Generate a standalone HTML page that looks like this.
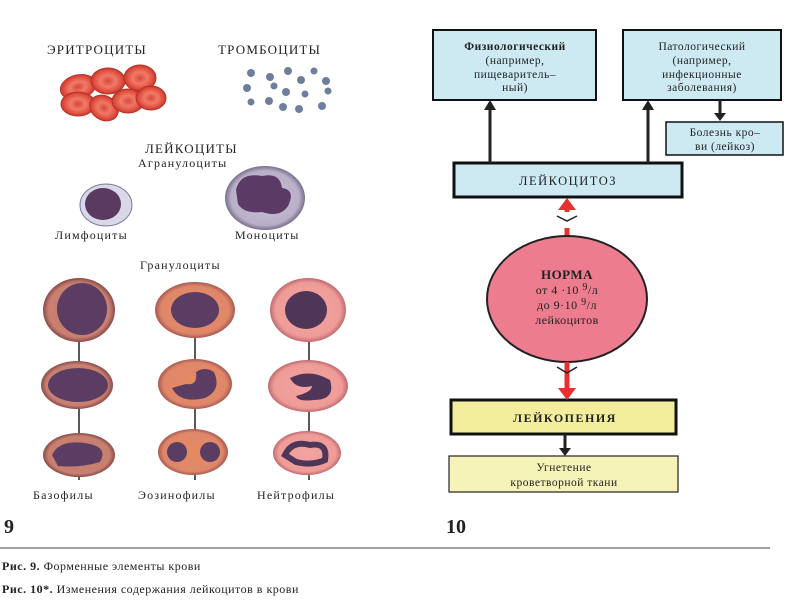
<!DOCTYPE html>
<html><head><meta charset="utf-8"><style>
body{margin:0;background:#fff;}
svg{display:block;font-family:"Liberation Serif","Noto Serif CJK SC",serif;}
</style></head><body>
<svg width="800" height="600" viewBox="0 0 800 600" xmlns="http://www.w3.org/2000/svg">
<defs>
<radialGradient id="rbc" cx="50%" cy="50%" r="50%"><stop offset="0" stop-color="#d9483a"/><stop offset="0.45" stop-color="#f07a68"/><stop offset="0.8" stop-color="#e2503f"/><stop offset="1" stop-color="#c33a30"/></radialGradient>
<radialGradient id="gran" cx="50%" cy="50%" r="50%"><stop offset="0" stop-color="#e48a60"/><stop offset="0.85" stop-color="#e0876a"/><stop offset="1" stop-color="#a85a50"/></radialGradient>
<radialGradient id="neut" cx="50%" cy="50%" r="50%"><stop offset="0" stop-color="#f2a4a0"/><stop offset="0.85" stop-color="#ef9c98"/><stop offset="1" stop-color="#c06a70"/></radialGradient>
<radialGradient id="baso" cx="50%" cy="50%" r="50%"><stop offset="0" stop-color="#c47a6a"/><stop offset="0.85" stop-color="#c98070"/><stop offset="1" stop-color="#8a4a4a"/></radialGradient>
<radialGradient id="mono" cx="50%" cy="50%" r="50%"><stop offset="0" stop-color="#c9c3d8"/><stop offset="0.85" stop-color="#b8b0c8"/><stop offset="1" stop-color="#7b6e8e"/></radialGradient>
</defs>
<g font-size="13" fill="#222" letter-spacing="1.2">
<text x="47" y="54">ЭРИТРОЦИТЫ</text>
<text x="218" y="54">ТРОМБОЦИТЫ</text>
<text x="145" y="153">ЛЕЙКОЦИТЫ</text>
<text x="138" y="167" font-size="12">Агранулоциты</text>
<text x="55" y="239" font-size="12">Лимфоциты</text>
<text x="235" y="239" font-size="12">Моноциты</text>
<text x="140" y="269" font-size="12">Гранулоциты</text>
<text x="33" y="499" font-size="12">Базофилы</text>
<text x="138" y="499" font-size="12">Эозинофилы</text>
<text x="257" y="499" font-size="12">Нейтрофилы</text>
</g>
<!-- erythrocytes -->
<g stroke="#b83228" stroke-width="1">
<ellipse cx="78" cy="87" rx="18" ry="12" fill="url(#rbc)" transform="rotate(-15 78 87)"/>
<ellipse cx="108" cy="81" rx="17" ry="13" fill="url(#rbc)"/>
<ellipse cx="140" cy="78" rx="16" ry="13" fill="url(#rbc)"/>
<ellipse cx="78" cy="104" rx="17" ry="12" fill="url(#rbc)"/>
<ellipse cx="104" cy="108" rx="15" ry="12" fill="url(#rbc)" transform="rotate(30 104 108)"/>
<ellipse cx="128" cy="101" rx="16" ry="12" fill="url(#rbc)"/>
<ellipse cx="151" cy="98" rx="15" ry="12" fill="url(#rbc)"/>
</g>
<!-- platelets -->
<g fill="#6d7f9a">
<circle cx="251" cy="73" r="4"/><circle cx="270" cy="77" r="4"/><circle cx="288" cy="71" r="4"/><circle cx="314" cy="71" r="3.5"/><circle cx="301" cy="80" r="4"/><circle cx="326" cy="81" r="4"/><circle cx="247" cy="88" r="4"/><circle cx="274" cy="86" r="3.5"/><circle cx="286" cy="92" r="4"/><circle cx="305" cy="94" r="3.5"/><circle cx="328" cy="91" r="3.5"/><circle cx="251" cy="102" r="3.5"/><circle cx="269" cy="101" r="4"/><circle cx="283" cy="107" r="4"/><circle cx="299" cy="109" r="4"/><circle cx="322" cy="106" r="4"/>
</g>
<!-- lymphocyte -->
<ellipse cx="106" cy="205" rx="26" ry="21" fill="#d8d8e8" stroke="#7b7896"/>
<ellipse cx="103" cy="204" rx="18" ry="16" fill="#5a3a60"/>
<!-- monocyte -->
<ellipse cx="265" cy="198" rx="40" ry="32" fill="url(#mono)"/>
<path d="M236,190 Q240,172 262,176 Q280,172 282,188 Q296,190 288,206 Q280,218 262,212 Q244,214 238,204 Z" fill="#5c3a66"/>
<!-- granulocyte columns -->
<g stroke="#222" stroke-width="1.5">
<line x1="79" y1="330" x2="79" y2="470"/><line x1="195" y1="330" x2="195" y2="480"/><line x1="309" y1="330" x2="309" y2="480"/>
<line x1="79" y1="470" x2="79" y2="480"/>
</g>
<!-- basophils -->
<ellipse cx="79" cy="310" rx="36" ry="32" fill="url(#baso)"/>
<ellipse cx="82" cy="309" rx="25" ry="26" fill="#5b3d63"/>
<ellipse cx="77" cy="385" rx="36" ry="24" fill="url(#baso)"/>
<ellipse cx="78" cy="385" rx="30" ry="17" fill="#5b3d63"/>
<ellipse cx="79" cy="455" rx="36" ry="22" fill="url(#baso)"/>
<path d="M52,455 Q60,438 90,444 Q108,448 100,462 Q80,468 58,466 Z" fill="#5b3d63"/>
<!-- eosinophils -->
<ellipse cx="195" cy="310" rx="40" ry="28" fill="url(#gran)"/>
<ellipse cx="195" cy="310" rx="24" ry="18" fill="#5b3d63"/>
<ellipse cx="195" cy="384" rx="37" ry="25" fill="url(#gran)"/>
<path d="M172,388 Q180,404 205,398 Q222,390 214,372 Q205,366 196,372 Q198,386 186,384 Z" fill="#5b3d63"/>
<ellipse cx="193" cy="452" rx="35" ry="23" fill="url(#gran)"/>
<ellipse cx="177" cy="452" rx="10" ry="10" fill="#5b3d63"/><ellipse cx="210" cy="452" rx="10" ry="10" fill="#5b3d63"/>
<!-- neutrophils -->
<ellipse cx="308" cy="310" rx="38" ry="32" fill="url(#neut)"/>
<ellipse cx="306" cy="310" rx="21" ry="19" fill="#4f3558"/>
<ellipse cx="308" cy="386" rx="40" ry="26" fill="url(#neut)"/>
<path d="M290,378 Q310,368 330,380 Q336,400 314,400 Q298,402 296,396 Q312,392 312,386 Q296,390 290,378 Z" fill="#4f3558"/>
<ellipse cx="307" cy="453" rx="34" ry="22" fill="url(#neut)"/>
<path d="M285,455 Q292,440 310,445 Q328,442 325,460 Q312,466 296,462 Z" fill="none" stroke="#4f3558" stroke-width="6"/>
<!-- right diagram -->
<g font-size="11.5" fill="#222" text-anchor="middle" letter-spacing="0.5">
<rect x="433" y="30" width="163" height="70" fill="#cdeaf3" stroke="#111" stroke-width="2"/>
<text x="515" y="50" font-weight="bold">Физиологический</text>
<text x="515" y="64">(например,</text>
<text x="515" y="78">пищеваритель–</text>
<text x="515" y="91">ный)</text>
<rect x="623" y="30" width="158" height="70" fill="#cdeaf3" stroke="#111" stroke-width="2"/>
<text x="702" y="50">Патологический</text>
<text x="702" y="64">(например,</text>
<text x="702" y="78">инфекционные</text>
<text x="702" y="91">заболевания)</text>
<rect x="666" y="122" width="117" height="33" fill="#cdeaf3" stroke="#111" stroke-width="1.5"/>
<text x="725" y="136">Болезнь кро–</text>
<text x="725" y="150">ви (лейкоз)</text>
<rect x="454" y="163" width="228" height="34" fill="#cdeaf3" stroke="#111" stroke-width="3"/>
<text x="568" y="185" font-size="12.5" letter-spacing="1.5">ЛЕЙКОЦИТОЗ</text>
<rect x="451" y="400" width="225" height="34" fill="#f2ee9c" stroke="#111" stroke-width="3"/>
<text x="565" y="422" font-size="12" font-weight="bold" letter-spacing="1.5">ЛЕЙКОПЕНИЯ</text>
<rect x="449" y="456" width="229" height="36" fill="#f6f3b8" stroke="#222" stroke-width="1.2"/>
<text x="564" y="471">Угнетение</text>
<text x="564" y="486">кроветворной ткани</text>
</g>
<!-- black arrows -->
<g stroke="#222" stroke-width="3"><line x1="490" y1="163" x2="490" y2="108"/><line x1="648" y1="163" x2="648" y2="108"/><line x1="720" y1="100" x2="720" y2="114"/><line x1="565" y1="434" x2="565" y2="449"/></g>
<g fill="#222"><polygon points="484,110 496,110 490,100"/><polygon points="642,110 654,110 648,100"/><polygon points="714,113 726,113 720,121"/><polygon points="559,448 571,448 565,456"/></g>
<!-- red connectors -->
<line x1="567" y1="212" x2="567" y2="208" stroke="#e83030" stroke-width="5"/>
<polygon points="558,210 576,210 567,198" fill="#e83030"/>
<polyline points="557,216 567,221 577,216" fill="none" stroke="#222" stroke-width="1.5"/>
<line x1="567" y1="228" x2="567" y2="240" stroke="#e83030" stroke-width="5"/>
<ellipse cx="567" cy="299" rx="80" ry="63" fill="#ec7c8e" stroke="#222" stroke-width="2"/>
<g font-size="12" fill="#222" text-anchor="middle" letter-spacing="0.5">
<text x="567" y="279" font-weight="bold" font-size="13">НОРМА</text>
<text x="567" y="294">от 4 ·10 <tspan font-size="10" dy="-4">9</tspan><tspan dy="4">/л</tspan></text>
<text x="567" y="309">до 9·10 <tspan font-size="10" dy="-4">9</tspan><tspan dy="4">/л</tspan></text>
<text x="567" y="324">лейкоцитов</text>
</g>
<line x1="567" y1="362" x2="567" y2="390" stroke="#e83030" stroke-width="5"/>
<polygon points="558,388 576,388 567,400" fill="#e83030"/>
<polyline points="557,367 567,373 577,367" fill="none" stroke="#222" stroke-width="1.5"/>
<!-- figure numbers & captions -->
<text x="4" y="533" font-size="20" font-weight="bold" fill="#222">9</text>
<text x="446" y="533" font-size="20" font-weight="bold" fill="#222">10</text>
<line x1="0" y1="548" x2="770" y2="548" stroke="#444" stroke-width="1"/>
<g font-size="12" fill="#222" letter-spacing="0.5">
<text x="2" y="570"><tspan font-weight="bold">Рис. 9.</tspan> Форменные элементы крови</text>
<text x="2" y="593"><tspan font-weight="bold">Рис. 10*.</tspan> Изменения содержания лейкоцитов в крови</text>
</g>
</svg>
</body></html>
